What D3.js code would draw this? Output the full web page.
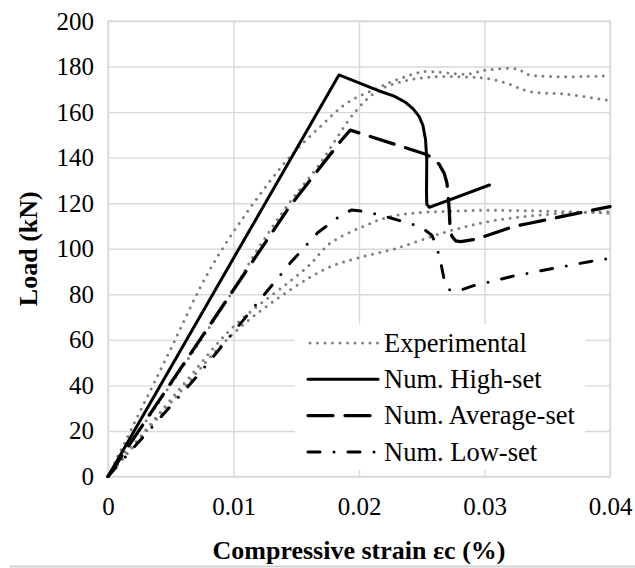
<!DOCTYPE html>
<html>
<head>
<meta charset="utf-8">
<script src="https://cdn.jsdelivr.net/npm/d3@7"></script>
<style>
  body { margin: 0; background: #fff; }
  svg { display: block; font-family: "Liberation Serif", "DejaVu Serif", serif; }
</style>
</head>
<body>
<div class="canvas"></div>
<script>
const dims = { width: 635, height: 568 };
const plot = { left: 108, right: 610, top: 21, bottom: 476.5 };
const serif = '"Liberation Serif", "DejaVu Serif", serif';

// axis ticks
const xTicks = [0, 0.01, 0.02, 0.03, 0.04];
const yTicks = [0, 20, 40, 60, 80, 100, 120, 140, 160, 180, 200];

// experimental curves [strain, load]
const expA = [[0, 0], [0.0047, 52.6], [0.0081, 90.7], [0.0114, 118.5], [0.0145, 140.4], [0.0169, 153.6],
  [0.019, 163.9], [0.0214, 170.4], [0.0233, 174.8], [0.0251, 177.7], [0.0286, 176.7], [0.0302, 178.5],
  [0.0326, 178.9], [0.0336, 176.3], [0.04, 176]];
const expB = [[0, 0], [0.0095, 77.5], [0.0119, 99.5], [0.0143, 119], [0.0169, 137.5], [0.0196, 159.5],
  [0.0214, 169], [0.0235, 173.5], [0.026, 175.5], [0.029, 175.3], [0.0302, 174.8], [0.0318, 172.6],
  [0.0336, 169], [0.0366, 167.8], [0.04, 165]];
const expC = [[0, 0], [0.0063, 42.4], [0.01, 65.8], [0.0159, 92.1], [0.0177, 102.4], [0.0203, 109.7],
  [0.0227, 114.4], [0.0283, 116.7], [0.0336, 116.7], [0.04, 115.6]];
const expD = [[0, 0], [0.0052, 33.6], [0.01, 62.9], [0.0145, 81.9], [0.0177, 92.1], [0.0198, 95.8],
  [0.023, 100.2], [0.027, 107.5], [0.031, 112.6], [0.0363, 115.6], [0.04, 116.3]];

// numerical curves [strain, load]
const numHigh = [[0, 0], [0.0184, 176.3], [0.0215, 169.5],
  [0.0228, 167], [0.0237, 164.3], [0.0243, 161.5], [0.0248, 158], [0.0251, 154], [0.0253, 148],
  [0.0254, 139], [0.02538, 125], [0.0254, 119.5], [0.0256, 118.2], [0.0304, 128]];
const numAverage = [[0, 0], [0.0144, 118], [0.0185, 147], [0.0193, 152.1], [0.0247, 142.6],
  [0.0253, 141.5], [0.0259, 139.8], [0.0264, 137], [0.0268, 133], [0.027, 129], [0.0271, 124],
  [0.0272, 116], [0.02725, 110], [0.0274, 105.5], [0.0277, 103.5], [0.0281, 103.1], [0.0294, 104.3],
  [0.0323, 109.7], [0.0336, 111.2], [0.0389, 117.3], [0.04, 118.5]];
const numLow = [[0, 0], [0.0071, 44], [0.0145, 93.6], [0.0167, 107], [0.0185, 114.5], [0.0194, 117],
  [0.0206, 116.3], [0.0226, 113.4], [0.0249, 109.7], [0.0258, 106], [0.0262, 101], [0.02655, 93],
  [0.0268, 86], [0.0271, 82.3], [0.0275, 81.4], [0.0279, 81.4], [0.029, 83.6], [0.0323, 88],
  [0.0355, 91.4], [0.0388, 94.8], [0.04, 95.8]];

const legendLabels = ['Experimental', 'Num. High-set', 'Num. Average-set', 'Num. Low-set'];

// line styles
const styles = {
  exp: { stroke: '#7f7f7f', width: 3, dash: '0 7.5', smooth: true },
  high: { stroke: '#000', width: 3, dash: null, smooth: false },
  average: { stroke: '#000', width: 3.3, dash: '25 12', smooth: false },
  low: { stroke: '#000', width: 3, dash: '12 14 0 14', smooth: false }
};

const svg = d3.select('.canvas')
  .append('svg')
    .attr('width', dims.width)
    .attr('height', dims.height);

const x = d3.scaleLinear().domain([0, 0.04]).range([plot.left, plot.right]);
const y = d3.scaleLinear().domain([0, 200]).range([plot.bottom, plot.top]);

// x axis + vertical grid
const xAxis = svg.append('g')
  .attr('transform', `translate(0, ${plot.bottom})`)
  .call(d3.axisBottom(x)
    .tickValues(xTicks)
    .tickSize(-(plot.bottom - plot.top))
    .tickPadding(21)
    .tickFormat(d => d === 0 ? '0' : d.toFixed(2)));

// y axis + horizontal grid
const yAxis = svg.append('g')
  .attr('transform', `translate(${plot.left}, 0)`)
  .call(d3.axisLeft(y)
    .tickValues(yTicks)
    .tickSize(-(plot.right - plot.left))
    .tickPadding(14));

[xAxis, yAxis].forEach(g => {
  g.attr('font-family', serif);
  g.select('.domain').remove();
  g.selectAll('line').attr('stroke', '#d9d9d9').attr('stroke-width', 1.4);
  g.selectAll('text')
    .attr('fill', '#000')
    .style('font-size', '25px')
    .style('font-family', serif);
});

// plot frame
svg.append('rect')
  .attr('x', plot.left)
  .attr('y', plot.top)
  .attr('width', plot.right - plot.left)
  .attr('height', plot.bottom - plot.top)
  .attr('fill', 'none')
  .attr('stroke', '#d9d9d9')
  .attr('stroke-width', 1.4);

// legend background
const legend = svg.append('g');
legend.append('rect')
  .attr('x', 295)
  .attr('y', 324)
  .attr('width', 290)
  .attr('height', 146)
  .attr('fill', '#fff');

// line generators
const smoothLine = d3.line()
  .x(d => x(d[0]))
  .y(d => y(d[1]))
  .curve(d3.curveCatmullRom.alpha(0.5));

const straightLine = d3.line()
  .x(d => x(d[0]))
  .y(d => y(d[1]));

const series = [
  { data: expA, style: styles.exp },
  { data: expB, style: styles.exp },
  { data: expC, style: styles.exp },
  { data: expD, style: styles.exp },
  { data: numHigh, style: styles.high },
  { data: numAverage, style: styles.average },
  { data: numLow, style: styles.low }
];

svg.append('g')
  .selectAll('path')
  .data(series)
  .enter()
  .append('path')
    .attr('d', d => d.style.smooth ? smoothLine(d.data) : straightLine(d.data))
    .attr('fill', 'none')
    .attr('stroke', d => d.style.stroke)
    .attr('stroke-width', d => d.style.width)
    .attr('stroke-dasharray', d => d.style.dash)
    .attr('stroke-linecap', 'round')
    .attr('stroke-linejoin', 'round');

// legend entries
const legendStyles = [styles.exp, styles.high, styles.average, styles.low];
const rows = legend.selectAll('.row')
  .data(legendLabels)
  .enter()
  .append('g')
    .attr('class', 'row')
    .attr('transform', (d, i) => `translate(308, ${343 + i * 36.3})`);

rows.append('line')
  .attr('x1', (d, i) => i === 0 ? 2 : 0)
  .attr('x2', 70)
  .attr('stroke', (d, i) => legendStyles[i].stroke)
  .attr('stroke-width', (d, i) => legendStyles[i].width)
  .attr('stroke-dasharray', (d, i) => legendStyles[i].dash)
  .attr('stroke-linecap', 'round');

rows.append('text')
  .attr('x', 76)
  .attr('dy', '0.33em')
  .style('font-size', '26.5px')
  .style('font-family', serif)
  .text(d => d);

// axis titles
svg.append('text')
  .attr('x', (plot.left + plot.right) / 2)
  .attr('y', 559)
  .attr('text-anchor', 'middle')
  .style('font-size', '26px')
  .style('font-weight', 'bold')
  .style('font-family', serif)
  .text('Compressive strain εc (%)');

svg.append('text')
  .attr('transform', `translate(37, ${(plot.top + plot.bottom) / 2}) rotate(-90)`)
  .attr('text-anchor', 'middle')
  .style('font-size', '26px')
  .style('font-weight', 'bold')
  .style('font-family', serif)
  .text('Load (kN)');

// bottom rule
svg.append('line')
  .attr('x1', 10)
  .attr('x2', 635)
  .attr('y1', 566.5)
  .attr('y2', 566.5)
  .attr('stroke', '#d0d0d0')
  .attr('stroke-width', 2);
</script>
</body>
</html>
